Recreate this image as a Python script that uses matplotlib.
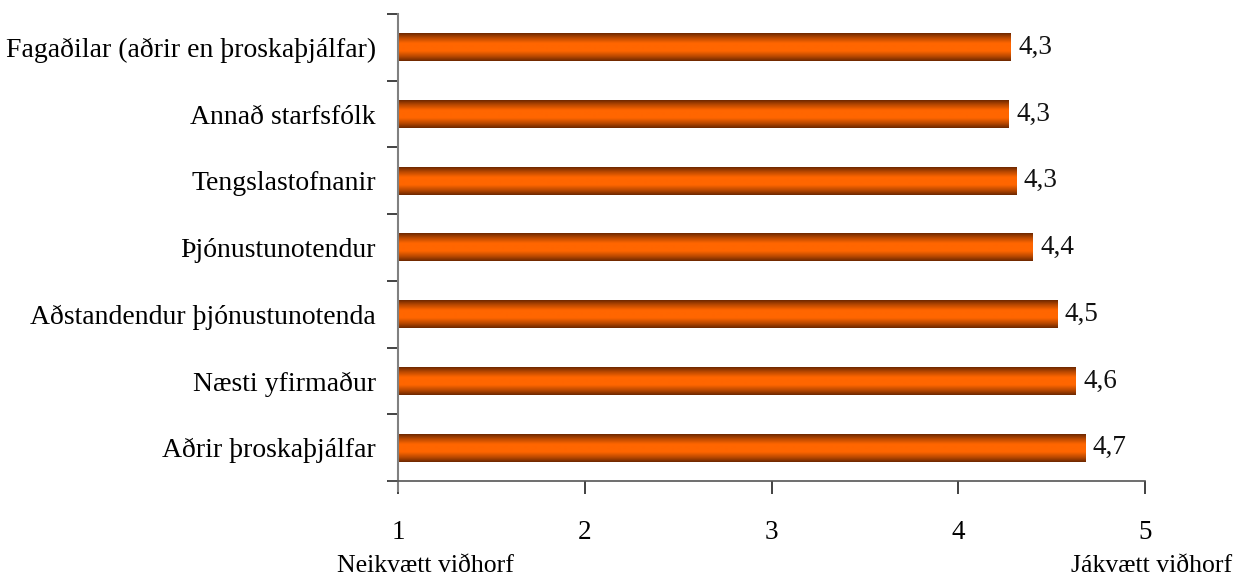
import numpy as np
import matplotlib.pyplot as plt
from matplotlib.colors import LinearSegmentedColormap

categories = ['Fagaðilar (aðrir en þroskaþjálfar)', 'Annað starfsfólk', 'Tengslastofnanir',
              'Þjónustunotendur', 'Aðstandendur þjónustunotenda', 'Næsti yfirmaður',
              'Aðrir þroskaþjálfar']
values = [4.28, 4.27, 4.31, 4.40, 4.53, 4.63, 4.68]
xticks = [1, 2, 3, 4, 5]

plt.rcParams['font.family'] = ['Liberation Serif', 'DejaVu Serif']

fig = plt.figure(figsize=(12.4, 5.76), dpi=100)
ax = fig.add_axes([0.3210, 0.1649, 0.6024, 0.8108])

# tube-like shading across each bar
shade = LinearSegmentedColormap.from_list('tube', [
    (0.0, '#6e2800'), (0.16, '#b84800'), (0.36, '#ff6600'),
    (0.64, '#ff6600'), (0.84, '#b84800'), (1.0, '#6e2800')])
grad = np.linspace(0, 1, 64).reshape(-1, 1)

n = len(categories)
ypos = np.arange(n)[::-1]
h = 0.415
for y, v in zip(ypos, values):
    ax.imshow(grad, cmap=shade, aspect='auto', interpolation='bilinear',
              extent=(1, v, y - h / 2, y + h / 2), origin='upper', zorder=2)
    ax.text(v + 0.04, y, f'{v:.1f}'.replace('.', ','), va='center', ha='left',
            fontsize=19.5, color='#111111')

ax.set_xlim(1, 5)
ax.set_ylim(-0.5, n - 0.5)
ax.set_xticks(xticks)
ax.set_xticklabels([str(t) for t in xticks], fontsize=19.5)
ax.set_yticks(ypos)
ax.set_yticklabels(categories, fontsize=20)
ax.set_yticks(np.arange(n + 1) - 0.5, minor=True)

ax.tick_params(axis='y', which='major', length=0, pad=16)
ax.tick_params(axis='y', which='minor', length=8, width=1.2, color='#222222')
ax.tick_params(axis='x', length=9, width=1.2, color='#222222', pad=19)

for s in ['top', 'right']:
    ax.spines[s].set_visible(False)
ax.spines['left'].set_color('#808080')
ax.spines['left'].set_linewidth(1.5)
ax.spines['left'].set_bounds(-0.65, n - 0.5)
ax.spines['bottom'].set_color('#555555')
ax.spines['bottom'].set_linewidth(1.2)
ax.spines['bottom'].set_bounds(0.95, 5)

fig.text(0.3427, 0.017, 'Neikvætt viðhorf', ha='center', va='center', fontsize=18.5)
fig.text(0.994, 0.017, 'Jákvætt viðhorf', ha='right', va='center', fontsize=18.5)

fig.savefig('out.png', dpi=100)
